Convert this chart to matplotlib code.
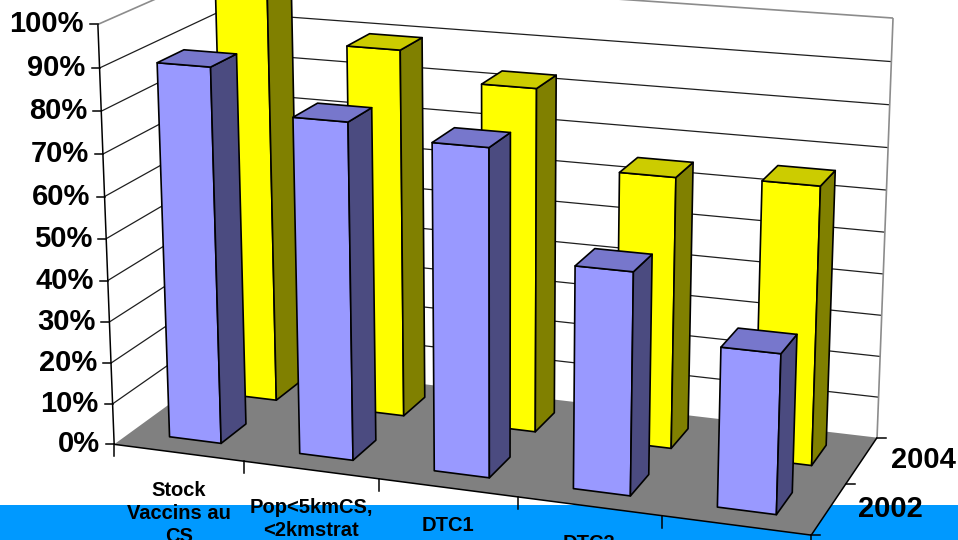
import numpy as np
import matplotlib
matplotlib.use("Agg")
import matplotlib.pyplot as plt
from matplotlib.patches import Polygon, Rectangle

# ---- data -------------------------------------------------------------
categories = ["Stock\nVaccins au\nCS", "Pop<5kmCS,\n<2kmstrat", "DTC1", "DTC3", "VAR"]
series_names = ["2002", "2004"]
values_2002 = [90, 80, 77, 52, 37]
values_2004 = [100, 89.5, 83, 65, 66]
value_ticks = [0, 10, 20, 30, 40, 50, 60, 70, 80, 90, 100]
value_labels = [f"{t}%" for t in value_ticks]

# ---- page / style -----------------------------------------------------
W, H = 958, 540
FONT = "Liberation Sans"
BAND = "#0099FF"
FLOOR = "#808080"
WALL_EDGE = "#8c8c8c"
GRID = "#1e1e1e"
COLORS = {
    "2002": ("#9999FF", "#4B4B80", "#7777CC"),   # front, side, top
    "2004": ("#FFFF00", "#808000", "#CCCC00"),
}
BAR_W = 0.40      # fraction of a category
BAR_D = 0.44      # fraction of a series row
N_CAT = len(categories)
N_SER = len(series_names)

# ---- perspective camera, solved from where the frame corners sit -------
# world coords: X = category position, Y = series depth, Z = value (%)
frame_anchors = [
    ((0, 0, 0), (116, 445)), ((0, 0, 50), (106, 239)), ((0, 0, 100), (98, 23.3)),
    ((1, 0, 0), (243, 461.5)), ((2, 0, 0), (380, 479)), ((3, 0, 0), (517, 497)),
    ((4, 0, 0), (660, 515.5)), ((5, 0, 0), (812, 535)), ((5, 1, 0), (847, 484)),
    ((5, 2, 0), (877, 437)), ((5, 2, 100), (893, 19)), ((0, 2, 0), (228, 361)),
]
CX, CY, S = 479.0, 270.0, 479.0


def solve_camera(anchors):
    rows = []
    for (X, Y, Z), (u, v) in anchors:
        P = [X, Y, Z / 100.0, 1.0]
        un, vn = (u - CX) / S, (v - CY) / S
        rows.append(P + [0, 0, 0, 0] + [-un * p for p in P])
        rows.append([0, 0, 0, 0] + P + [-vn * p for p in P])
    _, _, vt = np.linalg.svd(np.asarray(rows, float))
    return vt[-1].reshape(3, 4)


CAM = solve_camera(frame_anchors)


def proj(X, Y, Z):
    p = CAM @ np.array([X, Y, Z / 100.0, 1.0])
    return (p[0] / p[2] * S + CX, p[1] / p[2] * S + CY)


def poly(points, **kw):
    return Polygon([proj(*p) for p in points], closed=True, **kw)


def line3(a, b, **kw):
    pa, pb = proj(*a), proj(*b)
    ax.plot([pa[0], pb[0]], [pa[1], pb[1]], solid_capstyle="butt", **kw)


fig = plt.figure(figsize=(W / 100, H / 100), dpi=100)
ax = fig.add_axes([0, 0, 1, 1])
ax.set_xlim(0, W)
ax.set_ylim(H, 0)
ax.axis("off")

# slide band behind the chart
ax.add_patch(Rectangle((0, 504.5), W, H - 504.5, facecolor=BAND, edgecolor="none", zorder=0))

# floor
ax.add_patch(poly([(0, 0, 0), (N_CAT, 0, 0), (N_CAT, N_SER, 0), (0, N_SER, 0)],
                  facecolor=FLOOR, edgecolor="none", zorder=1))

# gridlines on side wall and back wall
for t in value_ticks[1:-1]:
    line3((0, 0, t), (0, N_SER, t), color=GRID, lw=0.9, zorder=2)
    line3((0, N_SER, t), (N_CAT, N_SER, t), color=GRID, lw=0.9, zorder=2)
# wall borders
line3((0, 0, 100), (0, N_SER, 100), color=WALL_EDGE, lw=1.2, zorder=2)
line3((0, N_SER, 100), (N_CAT, N_SER, 100), color=WALL_EDGE, lw=1.2, zorder=2)
line3((N_CAT, N_SER, 0), (N_CAT, N_SER, 100), color=WALL_EDGE, lw=1.2, zorder=2)
line3((0, N_SER, 0), (0, N_SER, 100), color=WALL_EDGE, lw=1.2, zorder=2)

# axes lines
line3((0, 0, 0), (0, 0, 100), color="black", lw=1.1, zorder=3)
line3((0, 0, 0), (N_CAT, 0, 0), color="black", lw=1.1, zorder=3)
line3((N_CAT, 0, 0), (N_CAT, N_SER, 0), color="black", lw=1.1, zorder=3)

# value ticks + labels
for t, lab in zip(value_ticks, value_labels):
    x, y = proj(0, 0, t)
    ax.plot([x - 8, x], [y, y], color="black", lw=1.1, zorder=3)
    ax.text(x - 14, y, lab, ha="right", va="center", fontsize=21,
            fontweight="bold", family=FONT, zorder=6)

# category ticks + labels
for i in range(N_CAT + 1):
    x, y = proj(i, 0, 0)
    ax.plot([x, x], [y, y + 12], color="black", lw=1.1, zorder=3)
for i, lab in enumerate(categories):
    x, y = proj(i + 0.5, 0, 0)
    ax.text(x, y + 28, lab, ha="center", va="top", fontsize=14.5, fontweight="bold",
            family=FONT, linespacing=1.28, zorder=6)

# series ticks + labels
for j in range(N_SER + 1):
    x, y = proj(N_CAT, j, 0)
    ax.plot([x, x + 9], [y, y], color="black", lw=1.1, zorder=3)
for j, lab in enumerate(series_names):
    x, y = proj(N_CAT, j + 0.5, 0)
    ax.text(x + 62, y, lab, ha="center", va="center", fontsize=21,
            fontweight="bold", family=FONT, zorder=6)

# bars: back row first, then the front row, left to right
series_values = {"2002": values_2002, "2004": values_2004}
z = 4
for j in reversed(range(N_SER)):
    name = series_names[j]
    front_c, side_c, top_c = COLORS[name]
    y0 = j + 0.5 - BAR_D / 2
    y1 = j + 0.5 + BAR_D / 2
    for i, v in enumerate(series_values[name]):
        x0 = i + 0.5 - BAR_W / 2
        x1 = i + 0.5 + BAR_W / 2
        kw = dict(edgecolor="black", lw=1.2, joinstyle="round", zorder=z)
        ax.add_patch(poly([(x0, y0, 0), (x1, y0, 0), (x1, y0, v), (x0, y0, v)], facecolor=front_c, **kw))
        ax.add_patch(poly([(x1, y0, 0), (x1, y1, 0), (x1, y1, v), (x1, y0, v)], facecolor=side_c, **kw))
        ax.add_patch(poly([(x0, y0, v), (x1, y0, v), (x1, y1, v), (x0, y1, v)], facecolor=top_c, **kw))
        z += 0.01

fig.savefig("out.png", dpi=100)
